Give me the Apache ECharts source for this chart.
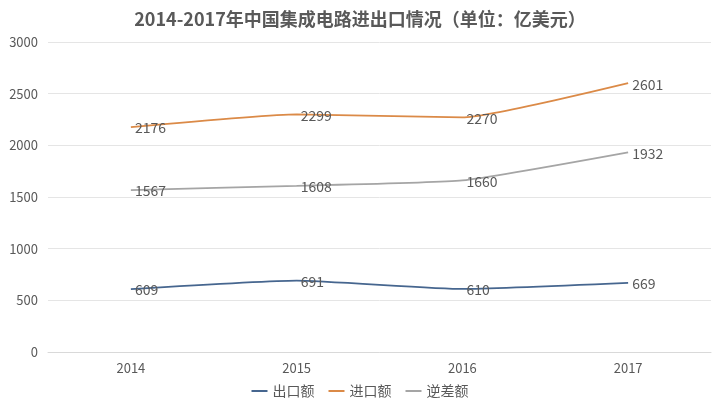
<!DOCTYPE html>
<html>
<head>
<meta charset="utf-8">
<script src="https://cdn.jsdelivr.net/npm/echarts@6/dist/echarts.min.js"></script>
<style>
html,body{margin:0;padding:0;background:#fff;}
#chart{width:720px;height:405px;}
</style>
</head>
<body>
<div id="chart"></div>
<script>
// 年份
var years = ['2014', '2015', '2016', '2017'];
// 出口额 / 进口额 / 逆差额（亿美元）
var exportVals = [609, 691, 610, 669];
var importVals = [2176, 2299, 2270, 2601];
var deficitVals = [1567, 1608, 1660, 1932];
var yTicks = [0, 500, 1000, 1500, 2000, 2500, 3000];

var font = '"Noto Sans CJK SC", "Noto Sans", sans-serif';

function makeSeries(name, data, color){
    return {
        name: name,
        type: 'line',
        data: data,
        smooth: 0.15,
        symbol: 'circle',
        symbolSize: 0,
        showSymbol: true,
        lineStyle: {color: color, width: 1.8},
        itemStyle: {color: color},
        label: {
            show: true,
            position: 'right',
            distance: 4,
            offset: [0, 1],
            color: '#595959',
            fontSize: 14,
            fontFamily: font
        }
    };
}

var chart = echarts.init(document.getElementById('chart'));
var option = {
    animation: false,
    title: {
        text: '2014-2017年中国集成电路进出口情况（单位：亿美元）',
        left: 'center',
        top: 5,
        textStyle: {color: '#595959', fontSize: 18, fontWeight: 'bold', fontFamily: font}
    },
    legend: {
        bottom: 2,
        left: 'center',
        itemWidth: 16,
        itemHeight: 2,
        itemGap: 14,
        icon: 'rect',
        textStyle: {color: '#595959', fontSize: 14, fontFamily: font},
        data: ['出口额', '进口额', '逆差额']
    },
    grid: {left: 48, right: 9, top: 42, bottom: 53},
    xAxis: {
        type: 'category',
        data: years,
        boundaryGap: true,
        axisLine: {lineStyle: {color: '#d9d9d9'}},
        axisTick: {show: false},
        axisLabel: {color: '#595959', fontSize: 13, margin: 10, fontFamily: font}
    },
    yAxis: {
        type: 'value',
        min: yTicks[0],
        max: yTicks[yTicks.length - 1],
        interval: 500,
        axisLine: {show: false},
        axisTick: {show: false},
        splitLine: {lineStyle: {color: '#e5e5e5'}},
        axisLabel: {
            color: '#595959', fontSize: 13, margin: 10, fontFamily: font,
            formatter: function (v) { return String(v); }
        }
    },
    series: [
        makeSeries('出口额', exportVals, '#46668f'),
        makeSeries('进口额', importVals, '#db8a47'),
        makeSeries('逆差额', deficitVals, '#a5a5a5')
    ]
};
chart.setOption(option);
</script>
</body>
</html>
